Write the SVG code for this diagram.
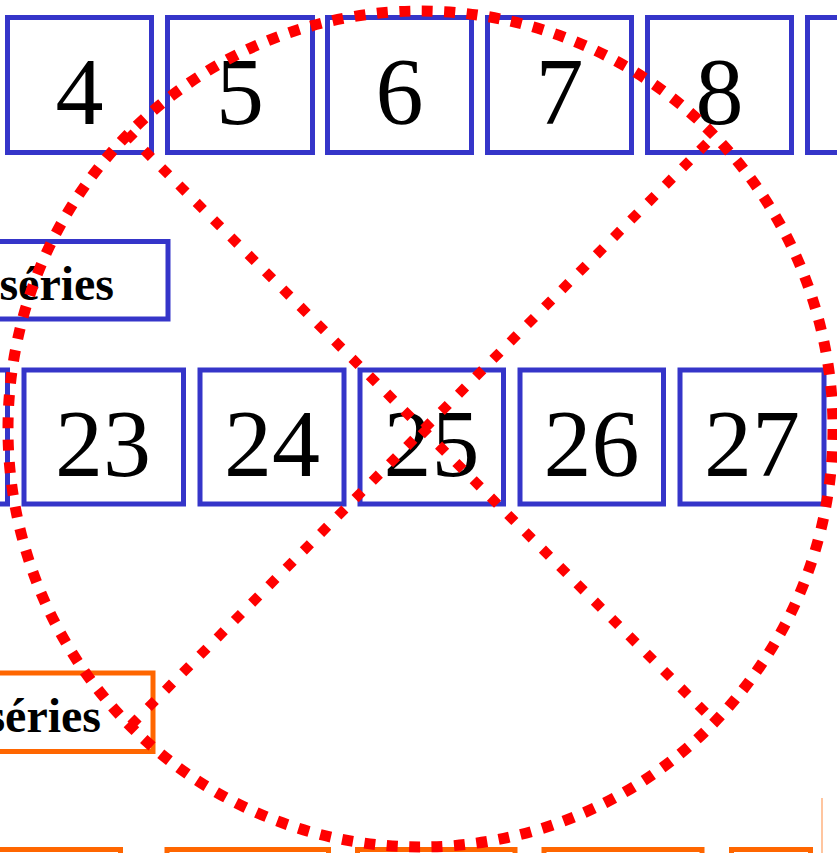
<svg xmlns="http://www.w3.org/2000/svg" width="837" height="853" viewBox="0 0 837 853">
<style>
.b{fill:#fff;stroke:#3535c9;stroke-width:5}
.o{fill:#fff;stroke:#ff6600;stroke-width:5}
.n{font-family:"Liberation Serif","Times New Roman",serif;font-size:96px;fill:#000;text-anchor:middle}
.l{font-family:"Liberation Serif","Times New Roman",serif;font-size:48px;font-weight:bold;fill:#000;text-anchor:end}
.dc{fill:none;stroke:#ff0000;stroke-width:11;stroke-dasharray:11 11.5}
.dl{fill:none;stroke:#ff0000;stroke-width:10;stroke-dasharray:10 14.5}
</style>
<rect width="837" height="853" fill="#fff"/>
<g id="top-row">
<g id="n4"><rect class="b" x="7.5" y="17.5" width="144" height="135"/><text class="n" x="79.5" y="124">4</text></g>
<g id="n5"><rect class="b" x="167.5" y="17.5" width="145" height="135"/><text class="n" x="240" y="124">5</text></g>
<g id="n6"><rect class="b" x="327.5" y="17.5" width="144" height="135"/><text class="n" x="399.5" y="124">6</text></g>
<g id="n7"><rect class="b" x="487.5" y="17.5" width="144" height="135"/><text class="n" x="559.5" y="124">7</text></g>
<g id="n8"><rect class="b" x="647.5" y="17.5" width="144" height="135"/><text class="n" x="719.5" y="124">8</text></g>
<g id="n9"><rect class="b" x="807.5" y="17.5" width="144" height="135"/></g>
</g>
<g id="label-blue"><rect class="b" x="-120" y="241.5" width="288" height="77.5"/><text class="l" x="114" y="300">séries</text></g>
<g id="middle-row">
<g id="n22"><rect class="b" x="-140" y="370" width="147.5" height="134"/></g>
<g id="n23"><rect class="b" x="24" y="370" width="159.5" height="134"/><text class="n" x="103" y="476">23</text></g>
<g id="n24"><rect class="b" x="200" y="370" width="144" height="134"/><text class="n" x="272" y="476">24</text></g>
<g id="n25"><rect class="b" x="360" y="370" width="143.5" height="134"/><text class="n" x="431.5" y="476">25</text></g>
<g id="n26"><rect class="b" x="520" y="370" width="143.5" height="134"/><text class="n" x="591.5" y="476">26</text></g>
<g id="n27"><rect class="b" x="680" y="370" width="144" height="134"/><text class="n" x="752" y="476">27</text></g>
</g>
<g id="label-orange"><rect class="o" x="-120" y="673" width="273" height="78.5"/><text class="l" x="101" y="731.5">séries</text></g>
<g id="bottom-row">
<g id="b1"><rect class="o" x="-40" y="849.5" width="160.5" height="60"/></g>
<g id="b2"><rect class="o" x="167" y="849.5" width="161.5" height="60"/></g>
<g id="b3"><rect class="o" x="357.5" y="849.5" width="157.5" height="60"/></g>
<g id="b4"><rect class="o" x="544" y="849.5" width="158" height="60"/></g>
<g id="b5"><rect class="o" x="731.5" y="849.5" width="79" height="60"/></g>
<g id="b6"><line x1="822" y1="798" x2="822" y2="853" stroke="#ffb27f" stroke-width="1.5"/></g>
</g>
<g id="connectors">
<ellipse class="dc" cx="420.5" cy="429" rx="412.5" ry="418"/>
<line class="dl" x1="127" y1="133" x2="714" y2="721"/>
<line class="dl" x1="131" y1="725" x2="715" y2="135"/>
</g>
</svg>
